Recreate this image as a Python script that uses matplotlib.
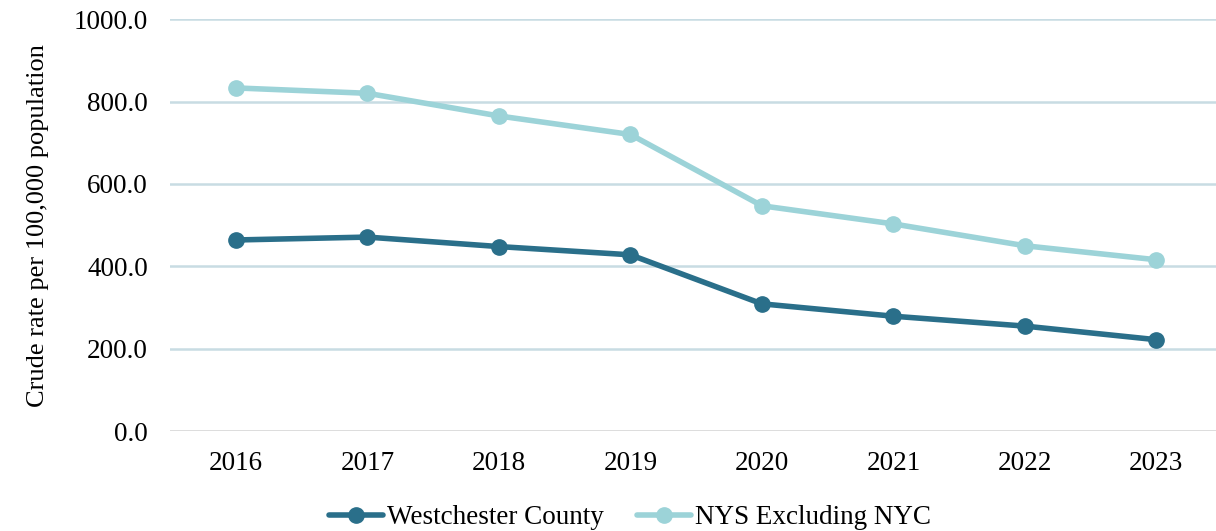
import matplotlib.pyplot as plt

plt.rcParams['font.family'] = ['Liberation Serif', 'DejaVu Serif']

years = ['2016', '2017', '2018', '2019', '2020', '2021', '2022', '2023']
westchester = [464, 471, 448, 428, 309, 279, 255, 222]
nys_excl_nyc = [833, 820, 765, 720, 547, 503, 450, 416]
yticks = [0, 200, 400, 600, 800, 1000]

dark = '#2A6F8A'
light = '#9CD3D8'

fig = plt.figure(figsize=(12.16, 5.31), dpi=100)
ax = fig.add_axes([0.14, 0.188, 0.865, 0.776])

x = list(range(len(years)))
ax.plot(x, westchester, color=dark, lw=4, marker='o', ms=11,
        label='Westchester County', solid_capstyle='round')
ax.plot(x, nys_excl_nyc, color=light, lw=4, marker='o', ms=11,
        label='NYS Excluding NYC', solid_capstyle='round')

ax.set_xlim(-0.5, len(years) - 0.5)
ax.set_ylim(0, 1000)
ax.set_xticks(x)
ax.set_xticklabels(years)
ax.set_yticks(yticks)
ax.set_yticklabels([f'{v:.1f}' for v in yticks])
ax.tick_params(axis='both', length=0, labelsize=19.5, colors='black')
ax.tick_params(axis='x', pad=14)
ax.tick_params(axis='y', pad=16)

for v in yticks[1:]:
    ax.axhline(v, color='#C8DCE3', lw=1.8, zorder=0)
ax.axhline(0, color='#D9D9D9', lw=2, zorder=0)

for s in ax.spines.values():
    s.set_visible(False)

ax.set_ylabel('Crude rate per 100,000 population', fontsize=19, labelpad=18)

fig.legend(*ax.get_legend_handles_labels(), loc='center', bbox_to_anchor=(0.518, 0.025),
           ncol=2, frameon=False, fontsize=19.5, handlelength=2.0,
           handletextpad=0.15, columnspacing=1.2, borderaxespad=0)

fig.savefig('out.png', dpi=100)
